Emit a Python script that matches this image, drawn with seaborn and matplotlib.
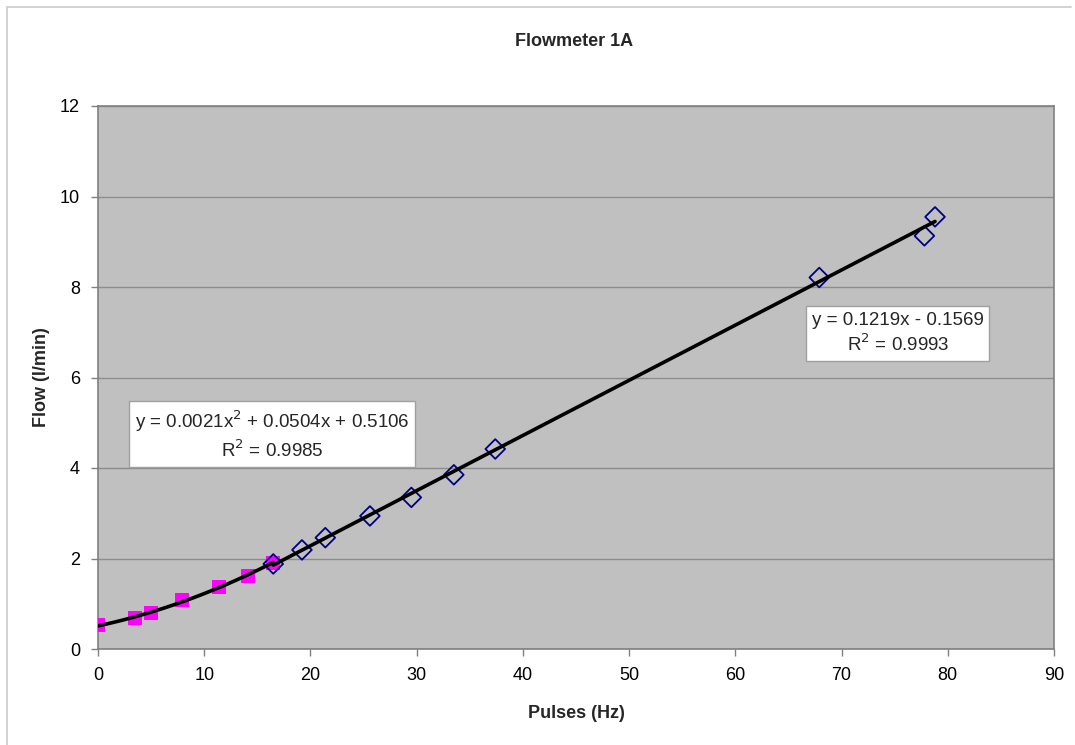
import numpy as np
import pandas as pd
import matplotlib
matplotlib.use("Agg")
import matplotlib.pyplot as plt
import seaborn as sns

# Low-flow calibration points (pulse frequency vs. measured flow)
low_hz = [0.0, 3.5, 5.0, 7.9, 11.4, 14.1, 16.5]
low_flow = [0.53, 0.68, 0.80, 1.08, 1.36, 1.62, 1.89]

# High-flow calibration points
high_hz = [16.5, 19.2, 21.4, 25.6, 29.5, 33.5, 37.4, 67.9, 77.8, 78.8]
high_flow = [1.88, 2.19, 2.46, 2.94, 3.35, 3.85, 4.42, 8.21, 9.13, 9.55]

# Trendline coefficients (highest power first)
quad_coef = [0.0021, 0.0504, 0.5106]
quad_r2 = 0.9985
lin_coef = [0.1219, -0.1569]
lin_r2 = 0.9993

x_ticks = [0, 10, 20, 30, 40, 50, 60, 70, 80, 90]
y_ticks = [0, 2, 4, 6, 8, 10, 12]

sns.set_theme(style="white")
plt.rcParams["font.family"] = ["Liberation Sans", "DejaVu Sans"]

fig = plt.figure(figsize=(10.75, 7.45), dpi=100)
ax = fig.add_axes([98 / 1075, 1 - 649 / 745, (1054 - 98) / 1075, (649 - 106) / 745])
ax.set_facecolor("#c0c0c0")

# Outer chart frame (top and left edges)
fig.add_artist(plt.Line2D([7 / 1075, 1071 / 1075], [1 - 7 / 745, 1 - 7 / 745],
                          transform=fig.transFigure, color="#cfcfcf", lw=1.3))
fig.add_artist(plt.Line2D([7 / 1075, 7 / 1075], [0, 1 - 7 / 745],
                          transform=fig.transFigure, color="#cfcfcf", lw=1.3))

ax.set_xlim(0, 90)
ax.set_ylim(0, 12)
ax.set_xticks(x_ticks)
ax.set_yticks(y_ticks)
ax.set_axisbelow(True)
ax.yaxis.grid(True, color="#8c8c8c", lw=1)
ax.xaxis.grid(False)

low_df = pd.DataFrame({"Pulses": low_hz, "Flow": low_flow})
high_df = pd.DataFrame({"Pulses": high_hz, "Flow": high_flow})

sns.scatterplot(data=low_df, x="Pulses", y="Flow", ax=ax, marker="s", s=105,
                color="#ff00ff", edgecolor="#ff00ff", linewidth=0, zorder=3)
sns.scatterplot(data=high_df, x="Pulses", y="Flow", ax=ax, marker="D", s=100,
                facecolor="none", edgecolor="#000080", linewidth=1.3, zorder=4)

# Fitted trendlines over each series' own range
xq = np.linspace(min(low_hz), max(low_hz), 100)
xl = np.linspace(min(high_hz), max(high_hz), 100)
quad_df = pd.DataFrame({"Pulses": xq, "Flow": np.polyval(quad_coef, xq)})
lin_df = pd.DataFrame({"Pulses": xl, "Flow": np.polyval(lin_coef, xl)})
sns.lineplot(data=quad_df, x="Pulses", y="Flow", ax=ax, color="black", lw=2.6,
             zorder=5)
sns.lineplot(data=lin_df, x="Pulses", y="Flow", ax=ax, color="black", lw=2.6,
             zorder=5)

box = dict(boxstyle="square,pad=0.3", facecolor="white", edgecolor="#a0a0a0", lw=1)
ax.text(16.4, 4.73,
        f"y = {quad_coef[0]:.4f}x$^2$ + {quad_coef[1]:.4f}x + {quad_coef[2]:.4f}\n"
        f"R$^2$ = {quad_r2:.4f}",
        ha="center", va="center", fontsize=13.5, linespacing=1.3, bbox=box,
        multialignment="center", zorder=6)
ax.text(75.3, 6.97,
        f"y = {lin_coef[0]:.4f}x - {abs(lin_coef[1]):.4f}\nR$^2$ = {lin_r2:.4f}",
        ha="center", va="center", fontsize=13.5, linespacing=1.3, bbox=box,
        multialignment="center", zorder=6)

for side in ["top", "right", "left", "bottom"]:
    ax.spines[side].set_color("#808080")
    ax.spines[side].set_linewidth(1.2)
ax.tick_params(axis="both", which="major", direction="out", length=5, width=1,
               color="#808080", labelsize=13, labelcolor="black", pad=8)
ax.tick_params(axis="x", bottom=True)
ax.tick_params(axis="y", left=True)

ax.set_xlabel("Pulses (Hz)", fontsize=13, fontweight="bold", labelpad=15)
ax.set_ylabel("Flow (l/min)", fontsize=13, fontweight="bold", labelpad=7)
fig.text(574 / 1075, 1 - 42 / 745, "Flowmeter 1A", ha="center", va="center",
         fontsize=13, fontweight="bold")

fig.savefig("out.png", dpi=100, facecolor="white")
